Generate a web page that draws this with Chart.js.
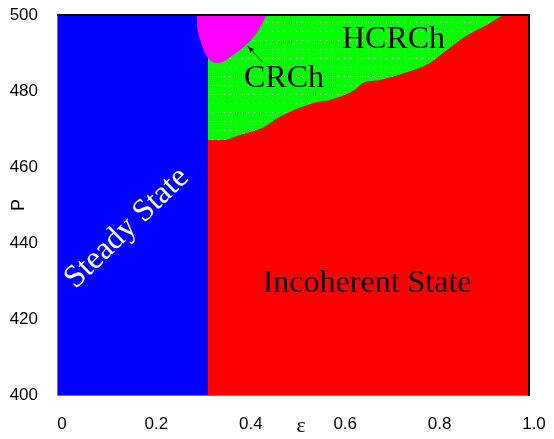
<!DOCTYPE html>
<html>
<head>
<meta charset="utf-8">
<script src="https://cdn.jsdelivr.net/npm/chart.js@4.4.1/dist/chart.umd.min.js"></script>
<style>
  html, body { margin: 0; padding: 0; background: #fff; }
  #c { display: block; }
</style>
</head>
<body>
<canvas id="c" width="554" height="439"></canvas>
<script>
// ---- data ----
const xTickValues = [0, 0.2, 0.4, 0.6, 0.8, 1.0];
const xTickLabels = ['0', '0.2', '0.4', '0.6', '0.8', '1.0'];
const yTickValues = [400, 420, 440, 460, 480, 500];
const yTickLabels = ['400', '420', '440', '460', '480', '500'];

// Steady-state region (blue): eps from 0 to threshold, full P range
const steadyX = [0, 0.32];
const steadyY = [500, 500];

// Incoherent state (red): upper boundary P(eps)
const incoherentX = [0.32, 0.352, 0.388, 0.436, 0.472, 0.542, 0.578, 0.631, 0.648, 0.684, 0.742, 0.790, 0.826, 0.869, 0.911, 0.953, 1.0];
const incoherentY = [467.1, 467.1, 468.4, 470.3, 473.2, 476.8, 477.6, 480.3, 482.1, 482.9, 485.0, 487.4, 490.8, 494.7, 497.4, 500, 500];

// HCRCh region (green): above incoherent boundary
const hcrchX = [0.32, 1.0];
const hcrchY = [500, 500];

// CRCh region (magenta): lower boundary of the blob
const crchX = [0.2956, 0.2962, 0.2977, 0.3008, 0.3040, 0.3083, 0.3136, 0.3199, 0.3273, 0.3369, 0.3475, 0.3581, 0.3686, 0.3792, 0.3898, 0.4004, 0.4110, 0.4195, 0.4269, 0.4333, 0.4386, 0.4439];
const crchY = [500, 498.16, 496.05, 494.47, 493.16, 491.58, 490.0, 488.68, 487.76, 487.37, 487.5, 488.16, 489.08, 490.0, 490.92, 492.11, 493.42, 494.74, 496.05, 497.37, 498.68, 500];

// region labels
const regionNames = ['Steady State', 'Incoherent State', 'HCRCh', 'CRCh'];
const regionLabelX = [0.148, 0.657, 0.713, 0.481];
const regionLabelY = [443.9, 427.2, 491.2, 481.0];

// arrow from CRCh label to the magenta blob
const arrowX = [0.436, 0.404];
const arrowY = [487.6, 491.8];

const toPts = (xs, ys) => xs.map((x, i) => ({ x: x, y: ys[i] }));

const canvas = document.getElementById('c');
const ctx = canvas.getContext('2d');

// dotted green pattern
const pc = document.createElement('canvas');
pc.width = 6; pc.height = 9;
const pctx = pc.getContext('2d');
pctx.fillStyle = '#00ff00';
pctx.fillRect(0, 0, 6, 9);
pctx.fillStyle = '#e6ffe6';
pctx.fillRect(2, 4, 1, 1);
const greenPattern = ctx.createPattern(pc, 'repeat');

const regionPlugin = {
  id: 'regionDecor',
  afterDatasetsDraw(chart) {
    const c = chart.ctx;
    const xs = chart.scales.x, ys = chart.scales.y;
    const a = chart.chartArea;
    c.save();
    // frame
    c.lineWidth = 1;
    c.strokeStyle = '#777';
    c.beginPath();
    c.moveTo(a.left + 0.5, a.top);
    c.lineTo(a.left + 0.5, a.bottom + 0.5);
    c.lineTo(a.right, a.bottom + 0.5);
    c.stroke();
    c.strokeStyle = '#000';
    c.lineWidth = 2;
    c.beginPath();
    c.moveTo(a.left, a.top);
    c.lineTo(a.right, a.top);
    c.lineTo(a.right, a.bottom + 1);
    c.stroke();

    // labels
    c.font = '32px "Liberation Serif", "Times New Roman", serif';
    // Steady State (rotated, white)
    c.save();
    c.translate(xs.getPixelForValue(regionLabelX[0]), ys.getPixelForValue(regionLabelY[0]));
    c.rotate(-44 * Math.PI / 180);
    c.fillStyle = '#ffffff';
    c.textAlign = 'center';
    c.textBaseline = 'middle';
    c.fillText(regionNames[0], 0, 0);
    c.restore();
    c.fillStyle = '#000';
    c.textAlign = 'center';
    c.textBaseline = 'alphabetic';
    for (let i = 1; i < regionNames.length; i++) {
      c.fillText(regionNames[i], xs.getPixelForValue(regionLabelX[i]), ys.getPixelForValue(regionLabelY[i]));
    }

    // arrow
    const x0 = xs.getPixelForValue(arrowX[0]), y0 = ys.getPixelForValue(arrowY[0]);
    const x1 = xs.getPixelForValue(arrowX[1]), y1 = ys.getPixelForValue(arrowY[1]);
    const ang = Math.atan2(y1 - y0, x1 - x0);
    c.strokeStyle = '#000';
    c.lineWidth = 1;
    c.beginPath();
    c.moveTo(x0, y0);
    c.lineTo(x1, y1);
    c.stroke();
    const hl = 8, hw = 0.35;
    c.beginPath();
    c.moveTo(x1, y1);
    c.lineTo(x1 - hl * Math.cos(ang - hw), y1 - hl * Math.sin(ang - hw));
    c.lineTo(x1 - hl * 0.7 * Math.cos(ang), y1 - hl * 0.7 * Math.sin(ang));
    c.lineTo(x1 - hl * Math.cos(ang + hw), y1 - hl * Math.sin(ang + hw));
    c.closePath();
    c.fillStyle = '#000';
    c.fill();

    // x axis title epsilon (sits on the tick-label row, between 0.4 and 0.6)
    c.font = '22px "Liberation Serif", "Times New Roman", serif';
    c.textAlign = 'center';
    c.textBaseline = 'alphabetic';
    c.fillText('ε', xs.getPixelForValue(0.517), a.bottom + 37);
    c.restore();
  }
};

const zeroPad = (scale) => { scale.paddingTop = 0; scale.paddingBottom = 0; scale.paddingLeft = 0; scale.paddingRight = 0; };

const lineCommon = { pointRadius: 0, borderWidth: 0, showLine: true, cubicInterpolationMode: 'monotone' };

new Chart(ctx, {
  type: 'line',
  data: {
    datasets: [
      Object.assign({ label: 'CRCh', data: toPts(crchX, crchY), fill: 'end', backgroundColor: '#ff00ff', borderColor: '#ff00ff' }, lineCommon, { cubicInterpolationMode: 'default', tension: 0.3 }),
      Object.assign({ label: 'Steady State', data: toPts(steadyX, steadyY), fill: 'start', backgroundColor: '#0000ff', borderColor: '#0000ff' }, lineCommon, { cubicInterpolationMode: 'default', tension: 0 }),
      Object.assign({ label: 'Incoherent State', data: toPts(incoherentX, incoherentY), fill: 'start', backgroundColor: '#ff0000', borderColor: '#ff0000' }, lineCommon),
      Object.assign({ label: 'HCRCh', data: toPts(hcrchX, hcrchY), fill: 'start', backgroundColor: greenPattern, borderColor: '#00ff00' }, lineCommon, { cubicInterpolationMode: 'default', tension: 0 })
    ]
  },
  options: {
    responsive: false,
    animation: false,
    events: [],
    layout: { padding: { top: 15, right: 25, left: 0, bottom: 0 } },
    plugins: {
      legend: { display: false },
      tooltip: { enabled: false },
      filler: { propagate: false }
    },
    scales: {
      x: {
        type: 'linear',
        min: 0, max: 1,
        grid: { display: false, drawTicks: false },
        border: { display: false },
        afterBuildTicks(scale) { scale.ticks = xTickValues.map(v => ({ value: v })); },
        afterFit(scale) { scale.height = 44; zeroPad(scale); },
        ticks: {
          padding: 19,
          labelOffset: 5,
          maxRotation: 0,
          autoSkip: false,
          color: '#000',
          font: { family: '"Liberation Sans", Arial, sans-serif', size: 17 },
          callback(value) {
            const i = xTickValues.findIndex(v => Math.abs(v - value) < 1e-9);
            return i >= 0 ? xTickLabels[i] : '';
          }
        }
      },
      y: {
        type: 'linear',
        min: 400, max: 500,
        grid: { display: false, drawTicks: false },
        border: { display: false },
        afterBuildTicks(scale) { scale.ticks = yTickValues.map(v => ({ value: v })); },
        afterFit(scale) { scale.width = 57; zeroPad(scale); },
        title: {
          display: true,
          text: 'P',
          color: '#000',
          padding: { top: 8, bottom: 0 },
          font: { family: '"Liberation Sans", Arial, sans-serif', size: 18 }
        },
        ticks: {
          padding: 19,
          autoSkip: false,
          color: '#000',
          font: { family: '"Liberation Sans", Arial, sans-serif', size: 17 },
          callback(value) {
            const i = yTickValues.findIndex(v => Math.abs(v - value) < 1e-9);
            return i >= 0 ? yTickLabels[i] : '';
          }
        }
      }
    }
  },
  plugins: [regionPlugin]
});
</script>
</body>
</html>
